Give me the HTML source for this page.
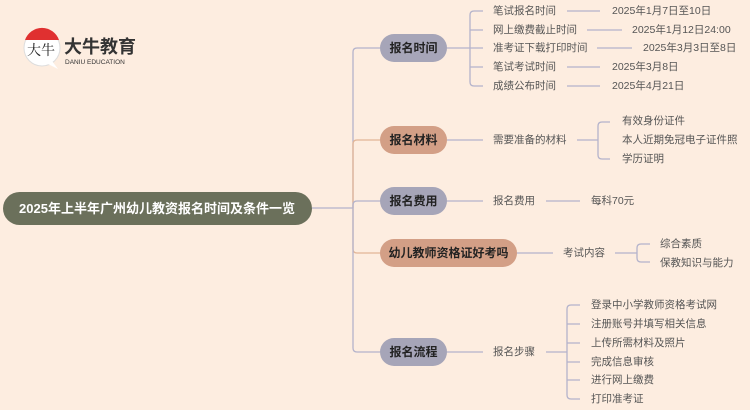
<!DOCTYPE html>
<html><head><meta charset="utf-8"><style>
html,body{margin:0;padding:0;background:#fdede0;}
svg{display:block;}
text{font-family:"Liberation Sans","Noto Sans CJK SC",sans-serif;}
.t{font-size:10.5px;fill:#555;dominant-baseline:central;}
.n{font-size:12px;font-weight:bold;fill:#222;dominant-baseline:central;text-anchor:middle;}
.l{stroke:#b4b3cb;stroke-width:1.3;fill:none;}
.o{stroke:#e2b597;stroke-width:1.3;fill:none;}
</style></head><body>
<svg width="750" height="410" viewBox="0 0 750 410">
<rect width="750" height="410" fill="#fdede0"/>
<!-- logo -->
<circle cx="42" cy="48" r="18" fill="#fff" stroke="#ddd" stroke-width="1"/>
<path d="M25,40 A18,18 0 0 1 59,40 Z" fill="#e03030"/>
<path d="M48,64 L58,69 L52,61 Z" fill="#fff"/>
<text x="27" y="55" font-size="14" fill="#222" style="font-family:'Noto Serif CJK SC',serif">大牛</text>
<text x="64" y="53" font-size="18" font-weight="bold" fill="#333">大牛教育</text>
<text x="65" y="64" font-size="6.5" fill="#333">DANIU EDUCATION</text>
<!-- root -->
<rect x="3" y="192" width="309" height="33" rx="16.5" fill="#6b705b"/>
<text x="157" y="208.5" font-size="13" font-weight="bold" fill="#fff" text-anchor="middle" dominant-baseline="central">2025年上半年广州幼儿教资报名时间及条件一览</text>
<!-- trunk -->
<path class="l" d="M312,208 H353"/>
<path class="l" d="M353,208 V52 Q353,48 357,48 H380"/>
<path class="o" d="M353,208 V144 Q353,140 357,140 H380"/>
<path class="l" d="M353,208 V205 Q353,201 357,201 H380"/>
<path class="o" d="M353,208 V249 Q353,253 357,253 H380"/>
<path class="l" d="M353,208 V348 Q353,352 357,352 H380"/>
<!-- level1 nodes -->
<rect x="380" y="34" width="67" height="28" rx="14" fill="#a6a5b8"/><text class="n" x="413.5" y="48">报名时间</text>
<rect x="380" y="126" width="67" height="28" rx="14" fill="#d39f86"/><text class="n" x="413.5" y="140">报名材料</text>
<rect x="380" y="187" width="67" height="28" rx="14" fill="#a6a5b8"/><text class="n" x="413.5" y="201">报名费用</text>
<rect x="380" y="239" width="137" height="28" rx="14" fill="#d39f86"/><text class="n" x="448.5" y="253">幼儿教师资格证好考吗</text>
<rect x="380" y="338" width="67" height="28" rx="14" fill="#a6a5b8"/><text class="n" x="413.5" y="352">报名流程</text>
<!-- 报名时间 -->
<path class="l" d="M447,48 H470 M483,11 H474 Q470,11 470,15 V82 Q470,86 474,86 H483 M470,30 H483 M470,48 H483 M470,67 H483"/>
<text class="t" x="493" y="11">笔试报名时间</text><path class="l" d="M567,11 H600"/><text class="t" x="612" y="11">2025年1月7日至10日</text>
<text class="t" x="493" y="30">网上缴费截止时间</text><path class="l" d="M587,30 H622"/><text class="t" x="632" y="30">2025年1月12日24:00</text>
<text class="t" x="493" y="48">准考证下载打印时间</text><path class="l" d="M597,48 H632"/><text class="t" x="643" y="48">2025年3月3日至8日</text>
<text class="t" x="493" y="67">笔试考试时间</text><path class="l" d="M567,67 H600"/><text class="t" x="612" y="67">2025年3月8日</text>
<text class="t" x="493" y="86">成绩公布时间</text><path class="l" d="M567,86 H600"/><text class="t" x="612" y="86">2025年4月21日</text>
<!-- 报名材料 -->
<path class="l" d="M447,140 H483"/>
<text class="t" x="493" y="140">需要准备的材料</text>
<path class="l" d="M577,140 H598 M610,122 H602 Q598,122 598,126 V155 Q598,159 602,159 H610"/>
<text class="t" x="622" y="121">有效身份证件</text>
<text class="t" x="622" y="140">本人近期免冠电子证件照</text>
<text class="t" x="622" y="159">学历证明</text>
<!-- 报名费用 -->
<path class="l" d="M447,201 H483 M546,201 H580"/>
<text class="t" x="493" y="201">报名费用</text>
<text class="t" x="591" y="201">每科70元</text>
<!-- 幼儿 -->
<path class="l" d="M517,253 H553 M615,253 H637 M650,244 H641 Q637,244 637,248 V258 Q637,262 641,262 H650"/>
<text class="t" x="563" y="253">考试内容</text>
<text class="t" x="660" y="244">综合素质</text>
<text class="t" x="660" y="263">保教知识与能力</text>
<!-- 报名流程 -->
<path class="l" d="M447,352 H483 M546,352 H567 M580,305 H571 Q567,305 567,309 V395 Q567,399 571,399 H580 M567,324 H580 M567,343 H580 M567,362 H580 M567,380 H580"/>
<text class="t" x="493" y="352">报名步骤</text>
<text class="t" x="591" y="305">登录中小学教师资格考试网</text>
<text class="t" x="591" y="324">注册账号并填写相关信息</text>
<text class="t" x="591" y="343">上传所需材料及照片</text>
<text class="t" x="591" y="362">完成信息审核</text>
<text class="t" x="591" y="380">进行网上缴费</text>
<text class="t" x="591" y="399">打印准考证</text>
</svg>
</body></html>
